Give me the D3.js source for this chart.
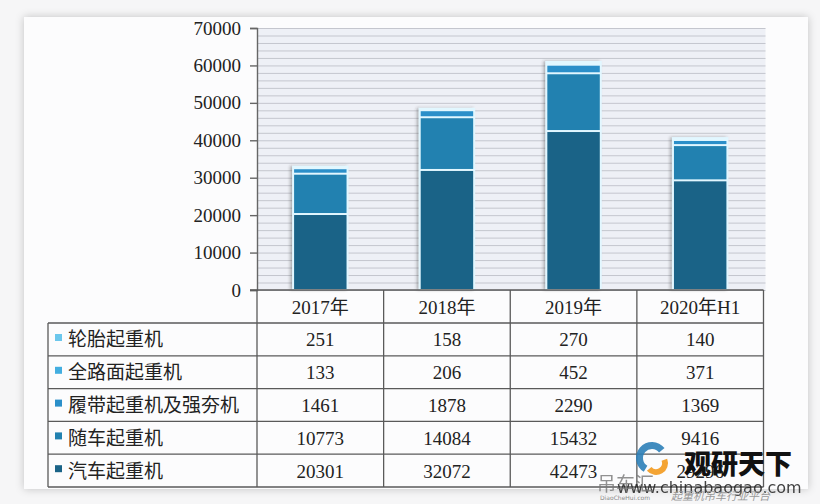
<!DOCTYPE html>
<html>
<head>
<meta charset="utf-8">
<script src="https://cdn.jsdelivr.net/npm/d3@7"></script>
<style>
    html, body { margin: 0; padding: 0; background: #f6f6f7; }
    svg { display: block; }
</style>
</head>
<body>
<div id="chart"></div>
<script>
// categories along the x axis / table columns
const categories = ["2017年", "2018年", "2019年", "2020年H1"];

// series, bottom of the stack first
const seriesNames = ["汽车起重机", "随车起重机", "履带起重机及强夯机", "全路面起重机", "轮胎起重机"];
const truckCrane = [20301, 32072, 42473, 29296];
const loaderCrane = [10773, 14084, 15432, 9416];
const crawlerCrane = [1461, 1878, 2290, 1369];
const allTerrainCrane = [133, 206, 452, 371];
const tyreCrane = [251, 158, 270, 140];

const yTicks = [0, 10000, 20000, 30000, 40000, 50000, 60000, 70000];

const seriesValues = [truckCrane, loaderCrane, crawlerCrane, allTerrainCrane, tyreCrane];
const colours = ["#1a6387", "#2281b0", "#2b8fc9", "#43aee0", "#6cc7ec"];

const W = 820, H = 504;
const margin = { top: 28, left: 257, right: 763.5, bottom: 290 };

const svg = d3.select("#chart").append("svg")
    .attr("width", W)
    .attr("height", H)
    .attr("viewBox", `0 0 ${W} ${H}`);

const defs = svg.append("defs");
const panelShadow = defs.append("filter")
    .attr("id", "panelShadow")
    .attr("x", "-5%").attr("y", "-5%").attr("width", "110%").attr("height", "110%");
panelShadow.append("feDropShadow")
    .attr("dx", 0).attr("dy", 0).attr("stdDeviation", 4)
    .attr("flood-color", "#000").attr("flood-opacity", 0.22);
const barShadow = defs.append("filter")
    .attr("id", "barShadow")
    .attr("x", "-20%").attr("y", "-5%").attr("width", "140%").attr("height", "110%");
barShadow.append("feDropShadow")
    .attr("dx", -2).attr("dy", 0).attr("stdDeviation", 1.5)
    .attr("flood-color", "#333").attr("flood-opacity", 0.35);

// white panel
svg.append("rect")
    .attr("x", 24).attr("y", 17)
    .attr("width", 784).attr("height", 472)
    .attr("fill", "#fcfcfd")
    .attr("filter", "url(#panelShadow)");

const x = d3.scaleBand()
    .domain(categories)
    .range([margin.left, margin.right])
    .paddingInner(0.57)
    .paddingOuter(0.285);

const colX = d3.scaleBand()
    .domain(categories)
    .range([margin.left, margin.right]);

const y = d3.scaleLinear()
    .domain([0, 70000])
    .range([margin.bottom, margin.top]);

// plot background with dense stripes
svg.append("rect")
    .attr("x", margin.left).attr("y", margin.top)
    .attr("width", margin.right - margin.left + 2)
    .attr("height", margin.bottom - margin.top)
    .attr("fill", "#eef0f6");

svg.append("g")
    .selectAll("line")
    .data(d3.range(0, 70001, 2000))
    .join("line")
    .attr("x1", margin.left)
    .attr("x2", margin.right + 2)
    .attr("y1", d => y(d) + 0.5)
    .attr("y2", d => y(d) + 0.5)
    .attr("stroke", "#c4c6ce")
    .attr("stroke-width", 1);

// stacked bars
const rows = categories.map((c, i) => {
    const r = { category: c };
    seriesNames.forEach((s, k) => { r[s] = seriesValues[k][i]; });
    return r;
});
const stacked = d3.stack().keys(seriesNames)(rows);

const barGroups = svg.append("g").attr("class", "bars");
categories.forEach((c, i) => {
    const total = d3.sum(seriesValues, v => v[i]);
    barGroups.append("rect")
        .attr("x", x(c) - 1)
        .attr("y", y(total) - 1)
        .attr("width", x.bandwidth() + 2)
        .attr("height", y(0) - y(total) + 1)
        .attr("fill", "#e2f7ff")
        .attr("filter", "url(#barShadow)");
});

barGroups.selectAll("g")
    .data(stacked)
    .join("g")
    .attr("fill", (d, i) => colours[i])
    .selectAll("rect")
    .data(d => d)
    .join("rect")
    .attr("x", d => x(d.data.category) + 1)
    .attr("y", d => y(d[1]) + 1)
    .attr("width", x.bandwidth() - 2)
    .attr("height", d => Math.max(0, y(d[0]) - y(d[1]) - 2));

// y axis
const yAxis = svg.append("g")
    .attr("transform", `translate(${margin.left},0)`)
    .call(d3.axisLeft(y).tickValues(yTicks).tickSize(7).tickPadding(9).tickFormat(d3.format("d")));
yAxis.select(".domain").attr("stroke", "#666").attr("stroke-width", 1.4);
yAxis.selectAll(".tick line").attr("stroke", "#666").attr("stroke-width", 1.4);
yAxis.selectAll("text")
    .attr("fill", "#222")
    .style("font-family", "'Liberation Serif', serif")
    .style("font-size", "19px");

// data table
const rowH = 32.8;
const headerTop = margin.bottom;
const headerBottom = 323;
const tableLeft = 48;
const tableRows = seriesNames.slice().reverse();
const tableBottom = headerBottom + rowH * tableRows.length;
const lineColour = "#5a5a5a";

const table = svg.append("g").attr("class", "table");

table.append("line")
    .attr("x1", margin.left - 7).attr("x2", margin.right)
    .attr("y1", headerTop).attr("y2", headerTop)
    .attr("stroke", lineColour).attr("stroke-width", 1.4);

d3.range(tableRows.length + 1).forEach(k => {
    table.append("line")
        .attr("x1", tableLeft).attr("x2", margin.right)
        .attr("y1", headerBottom + k * rowH).attr("y2", headerBottom + k * rowH)
        .attr("stroke", lineColour).attr("stroke-width", 1.3);
});

table.append("line")
    .attr("x1", tableLeft).attr("x2", tableLeft)
    .attr("y1", headerBottom).attr("y2", tableBottom)
    .attr("stroke", lineColour).attr("stroke-width", 1.3);

categories.concat([null]).forEach((c, i) => {
    const xx = c === null ? margin.right : colX(c);
    table.append("line")
        .attr("x1", xx).attr("x2", xx)
        .attr("y1", headerTop).attr("y2", tableBottom)
        .attr("stroke", lineColour).attr("stroke-width", 1.3);
});

table.selectAll("text.head")
    .data(categories)
    .join("text")
    .attr("class", "head")
    .attr("x", d => colX(d) + colX.bandwidth() / 2)
    .attr("y", (headerTop + headerBottom) / 2 + 7)
    .attr("text-anchor", "middle")
    .attr("fill", "#222")
    .style("font-family", "'Liberation Serif', 'Noto Sans CJK SC', serif")
    .style("font-size", "19px")
    .text(d => d);

tableRows.forEach((name, r) => {
    const k = seriesNames.indexOf(name);
    const top = headerBottom + r * rowH;
    table.append("rect")
        .attr("x", 55).attr("y", top + 11)
        .attr("width", 7).attr("height", 7)
        .attr("fill", colours[k]);
    table.append("text")
        .attr("x", 68).attr("y", top + rowH / 2 + 7)
        .attr("fill", "#222")
        .style("font-family", "'Noto Sans CJK SC', sans-serif")
        .style("font-size", "19px")
        .text(name);
    categories.forEach((c, i) => {
        table.append("text")
            .attr("x", colX(c) + colX.bandwidth() / 2)
            .attr("y", top + rowH / 2 + 7)
            .attr("text-anchor", "middle")
            .attr("fill", "#222")
            .style("font-family", "'Liberation Serif', serif")
            .style("font-size", "19px")
            .text(seriesValues[k][i]);
    });
});

// watermark
const wm = svg.append("g").attr("class", "watermark");
const swirl = d3.arc();
wm.append("path")
    .attr("transform", "translate(652,458)")
    .attr("d", swirl({ innerRadius: 9, outerRadius: 16, startAngle: -2.6, endAngle: 0.9 }))
    .attr("fill", "#2c7fb8").attr("opacity", 0.9);
wm.append("path")
    .attr("transform", "translate(656,463)")
    .attr("d", swirl({ innerRadius: 6, outerRadius: 12, startAngle: 1.2, endAngle: 4.0 }))
    .attr("fill", "#f39a1e").attr("opacity", 0.9);
wm.append("text")
    .attr("x", 684).attr("y", 474)
    .attr("fill", "#111")
    .style("font-family", "'Noto Sans CJK SC', sans-serif")
    .style("font-weight", "900")
    .style("font-size", "27px")
    .text("观研天下");
wm.append("text")
    .attr("x", 617).attr("y", 493)
    .attr("fill", "#222")
    .attr("opacity", 0.85)
    .style("font-family", "'DejaVu Sans', sans-serif")
    .style("font-size", "16px")
    .text("www.chinabaogao.com");
wm.append("text")
    .attr("x", 597).attr("y", 491)
    .attr("fill", "#777")
    .attr("opacity", 0.8)
    .style("font-family", "'Noto Sans CJK SC', sans-serif")
    .style("font-size", "19px")
    .text("吊车汇");
wm.append("text")
    .attr("x", 600).attr("y", 500)
    .attr("fill", "#888")
    .style("font-family", "'DejaVu Sans', sans-serif")
    .style("font-size", "6px")
    .text("DiaoCheHui.com");
wm.append("text")
    .attr("x", 671).attr("y", 500)
    .attr("fill", "#999")
    .style("font-family", "'Noto Sans CJK SC', sans-serif")
    .style("font-style", "italic")
    .style("font-size", "11px")
    .text("起重机吊车行业平台");
</script>
</body>
</html>
